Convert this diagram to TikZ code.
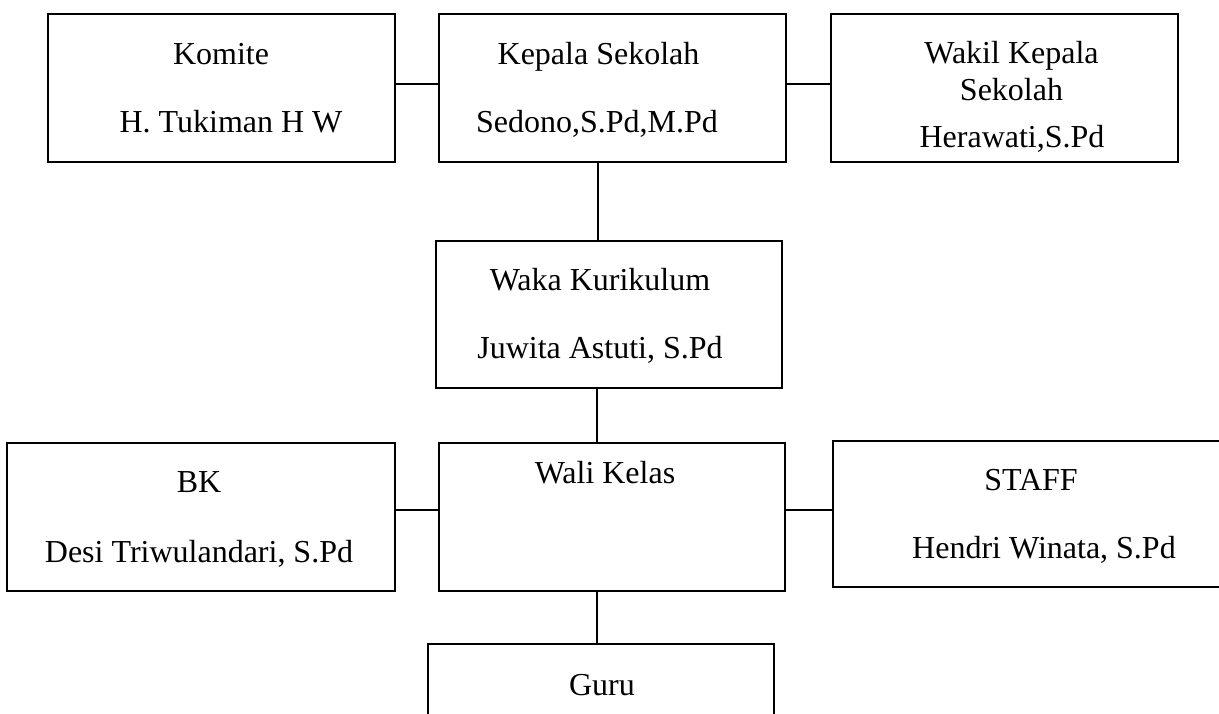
\documentclass[tikz,border=0pt]{standalone}
\usepackage{fontspec}
\setmainfont{Liberation Serif}
\begin{document}
\begin{tikzpicture}[x=1pt,y=-1pt,
  orgbox/.style={draw=black,line width=1.6pt,rectangle,inner sep=0pt,outer sep=0pt,fill=white},
  lbl/.style={anchor=base,inner sep=0pt,font=\fontsize{32}{37}\selectfont},
  conn/.style={draw=black,line width=1.4pt}]
\useasboundingbox (0,0) rectangle (1219,713);
\fill[white] (0,0) rectangle (1219,713);
\clip (0,0) rectangle (1219,713);
% boxes
\node[orgbox,minimum width=347pt,minimum height=148pt] (komite) at (221.5,88) {};
\node[orgbox,minimum width=347pt,minimum height=148pt] (kepala) at (612.5,88) {};
\node[orgbox,minimum width=347pt,minimum height=148pt] (wakil) at (1004.5,88) {};
\node[orgbox,minimum width=346pt,minimum height=147pt] (waka) at (609,314.5) {};
\node[orgbox,minimum width=346pt,minimum height=148pt] (wali) at (612,517) {};
\node[orgbox,minimum width=388pt,minimum height=148pt] (bk) at (201,517) {};
\node[orgbox,minimum width=394pt,minimum height=146pt] (staff) at (1030,514) {};
\node[orgbox,minimum width=346pt,minimum height=148pt] (guru) at (601,718) {};
% connectors
\draw[conn] (komite.east |- 0,84) -- (kepala.west |- 0,84);
\draw[conn] (kepala.east |- 0,84) -- (wakil.west |- 0,84);
\draw[conn] (kepala.south -| 598,0) -- (waka.north -| 598,0);
\draw[conn] (waka.south -| 597,0) -- (wali.north -| 597,0);
\draw[conn] (bk.east |- 0,510) -- (wali.west |- 0,510);
\draw[conn] (wali.east |- 0,510) -- (staff.west |- 0,510);
\draw[conn] (wali.south -| 597,0) -- (guru.north -| 597,0);
% texts
\node[lbl] (t1) at (221,64) {Komite};
\node[lbl] (t2) at (231,132) {H. Tukiman H W};
\node[lbl] (t3) at (598.5,64) {Kepala Sekolah};
\node[lbl] (t4) at (597,132) {Sedono,S.Pd,M.Pd};
\node[lbl] (t5) at (1011.5,63) {Wakil Kepala};
\node[lbl] (t6) at (1011.5,100) {Sekolah};
\node[lbl] (t7) at (1012,147) {Herawati,S.Pd};
\node[lbl] (t8) at (600,290) {Waka Kurikulum};
\node[lbl] (t9) at (600,358) {Juwita Astuti, S.Pd};
\node[lbl] (t10) at (605,483) {Wali Kelas};
\node[lbl] (t11) at (199,492) {BK};
\node[lbl] (t12) at (199,562) {Desi Triwulandari, S.Pd};
\node[lbl] (t13) at (1031,490) {STAFF};
\node[lbl] (t14) at (1044,558) {Hendri Winata, S.Pd};
\node[lbl] (t15) at (602,695) {Guru};
\end{tikzpicture}
\end{document}
